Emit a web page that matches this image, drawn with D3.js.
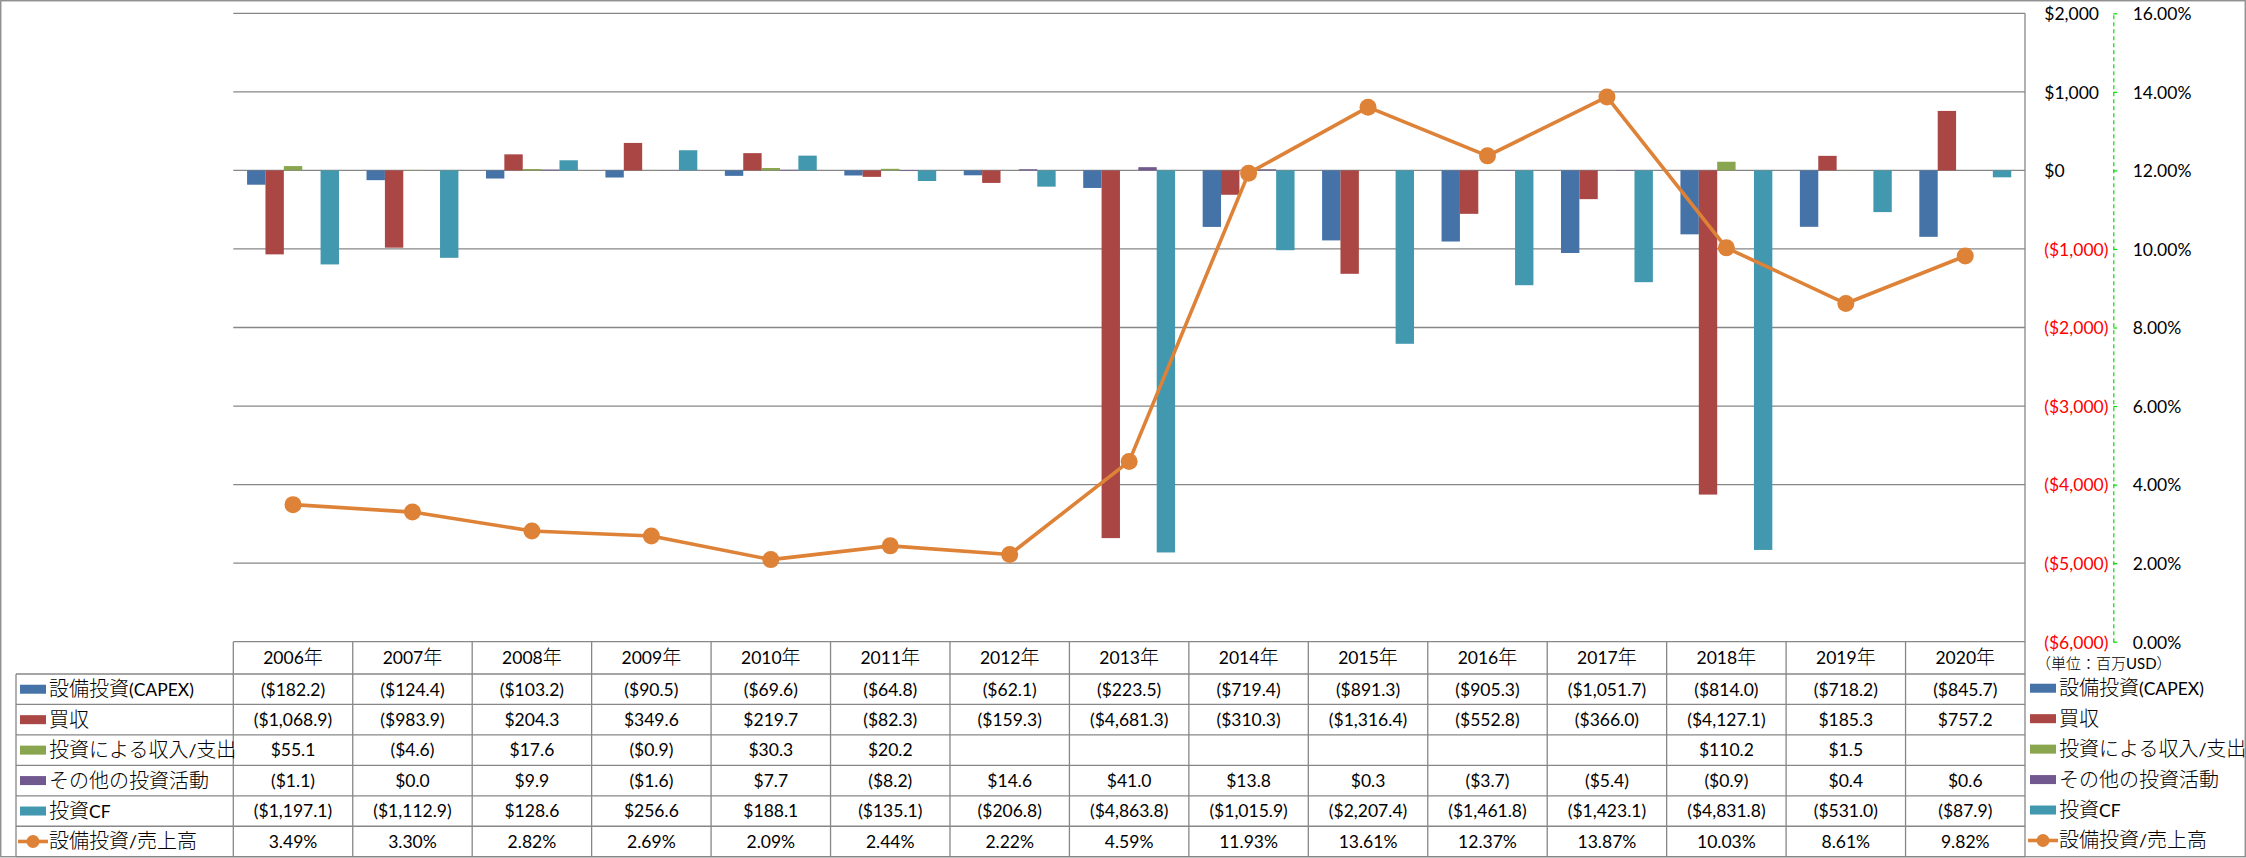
<!DOCTYPE html>
<html><head><meta charset="utf-8">
<script src="https://cdn.jsdelivr.net/npm/d3@7"></script>
<style>
html,body{margin:0;padding:0;background:#fff;}
svg{display:block;}
</style></head><body>
<svg id="chart" width="2246" height="858"></svg>
<script>
// ---------- data ----------
const years = ["2006年","2007年","2008年","2009年","2010年","2011年","2012年","2013年","2014年","2015年","2016年","2017年","2018年","2019年","2020年"];
const seriesNames = ["設備投資(CAPEX)","買収","投資による収入/支出","その他の投資活動","投資CF"];
const lineName = "設備投資/売上高";
const capex        = [-182.2,-124.4,-103.2,-90.5,-69.6,-64.8,-62.1,-223.5,-719.4,-891.3,-905.3,-1051.7,-814.0,-718.2,-845.7];
const acquisitions = [-1068.9,-983.9,204.3,349.6,219.7,-82.3,-159.3,-4681.3,-310.3,-1316.4,-552.8,-366.0,-4127.1,185.3,757.2];
const investIncome = [55.1,-4.6,17.6,-0.9,30.3,20.2,null,null,null,null,null,null,110.2,1.5,null];
const otherInvest  = [-1.1,0.0,9.9,-1.6,7.7,-8.2,14.6,41.0,13.8,0.3,-3.7,-5.4,-0.9,0.4,0.6];
const investCF     = [-1197.1,-1112.9,128.6,256.6,188.1,-135.1,-206.8,-4863.8,-1015.9,-2207.4,-1461.8,-1423.1,-4831.8,-531.0,-87.9];
const capexRatio   = [3.49,3.30,2.82,2.69,2.09,2.44,2.22,4.59,11.93,13.61,12.37,13.87,10.03,8.61,9.82];
const leftTicks  = [2000,1000,0,-1000,-2000,-3000,-4000,-5000,-6000];
const rightTicks = [16,14,12,10,8,6,4,2,0];
const unitLabel = "（単位：百万USD）";

const seriesValues = [capex, acquisitions, investIncome, otherInvest, investCF];
const colors = ["#4572A7","#AA4643","#89A54E","#71588F","#4198AF"];
const lineColor = "#DE8237";

// ---------- layout ----------
const W = 2246, H = 858;
const plotL = 233.3, plotR = 2025, plotT = 13.3, plotB = 641.7;
const tableLeft = 16;
const headerB = 674;
const rowH = 30.45;
const gridColor = "#878787";
const LAT = "Lato, 'Liberation Sans', sans-serif";
const CJKF = "'Noto Sans CJK JP', sans-serif";

const svg = d3.select("#chart");

const x = d3.scaleBand().domain(years).range([plotL, plotR]).paddingInner(0).paddingOuter(0);
const bw = x.bandwidth();
const groupW = bw * 5 / 6.5;
const xs = d3.scaleBand().domain(d3.range(5)).range([(bw - groupW) / 2, (bw + groupW) / 2]);
const y = d3.scaleLinear().domain([-6000, 2000]).range([plotB, plotT]);
const y2 = d3.scaleLinear().domain([0, 16]).range([plotB, plotT]);

// outer border
svg.append("rect").attr("x", 0.75).attr("y", 0.75).attr("width", W - 1.5).attr("height", 856)
  .attr("fill", "none").attr("stroke", "#868686").attr("stroke-width", 1.3);

// gridlines
svg.append("g").selectAll("line").data(leftTicks).join("line")
  .attr("x1", plotL).attr("x2", plotR).attr("y1", d => y(d)).attr("y2", d => y(d))
  .attr("stroke", gridColor).attr("stroke-width", 1.3);

// bars
const barsG = svg.append("g");
seriesValues.forEach((vals, i) => {
  barsG.append("g").selectAll("rect")
    .data(vals.map((v, j) => ({v, yr: years[j]})).filter(d => d.v !== null))
    .join("rect")
    .attr("x", d => x(d.yr) + xs(i))
    .attr("width", xs.bandwidth())
    .attr("y", d => y(Math.max(0, d.v)))
    .attr("height", d => Math.abs(y(d.v) - y(0)))
    .attr("fill", colors[i]);
});

// line
const pts = capexRatio.map((v, j) => ({v, yr: years[j]}));
svg.append("path").datum(pts)
  .attr("d", d3.line().x(d => x(d.yr) + bw / 2).y(d => y2(d.v)))
  .attr("fill", "none").attr("stroke", lineColor).attr("stroke-width", 3.6).attr("stroke-linejoin", "round");
svg.append("g").selectAll("circle").data(pts).join("circle")
  .attr("cx", d => x(d.yr) + bw / 2).attr("cy", d => y2(d.v)).attr("r", 8.5).attr("fill", lineColor);

// right border of plot/table
svg.append("line").attr("x1", plotR).attr("x2", plotR).attr("y1", plotT).attr("y2", 856.7)
  .attr("stroke", gridColor).attr("stroke-width", 1.3);

// left ($) axis labels
const fmtD = v => v < 0 ? "($" + d3.format(",")(-v) + ")" : "$" + d3.format(",")(v);
const axL = svg.append("g").attr("transform", "translate(2044.3,0)")
  .call(d3.axisRight(y).tickValues(leftTicks).tickSize(0).tickPadding(0).tickFormat(fmtD));
axL.select(".domain").remove();
axL.selectAll("text").attr("font-family", LAT).attr("font-size", 17.5)
  .attr("fill", d => d < 0 ? "#FF0000" : "#000").attr("dy", "0.36em");

// right (%) axis
const axR = svg.append("g").attr("transform", "translate(2113.3,0)")
  .call(d3.axisRight(y2).tickValues(rightTicks).tickSizeInner(4).tickSizeOuter(0).tickPadding(15.4)
    .tickFormat(d => d.toFixed(2) + "%"));
axR.select(".domain").attr("stroke", "#00DD00").attr("stroke-dasharray", "4,3").attr("stroke-width", 1.2);
axR.selectAll(".tick line").attr("stroke", "#00DD00").attr("stroke-width", 1.2);
axR.selectAll("text").attr("font-family", LAT).attr("font-size", 17.5).attr("fill", "#000").attr("dy", "0.36em");

// rich text helper (latin / CJK runs)
const CJKRE = /[\u3000-\u30ff\u3400-\u9fff\uff00-\uffef]/;
function rich(sel, str, latSize, cjkSize) {
  const runs = [];
  for (const ch of str) {
    const c = CJKRE.test(ch);
    if (runs.length && runs[runs.length - 1].c === c) runs[runs.length - 1].t += ch;
    else runs.push({c, t: ch});
  }
  runs.forEach(r => sel.append("tspan")
    .attr("font-family", r.c ? CJKF : LAT)
    .attr("font-weight", r.c ? 300 : 400)
    .attr("font-size", r.c ? cjkSize : latSize)
    .text(r.t));
}

// unit label
const ut = svg.append("text").attr("x", 2036).attr("y", 669).attr("fill", "#000");
rich(ut, unitLabel, 15, 15);

// ---------- table ----------
const tG = svg.append("g");
const tl = (x1, y1, x2, y2_) => tG.append("line").attr("x1", x1).attr("y1", y1).attr("x2", x2).attr("y2", y2_)
  .attr("stroke", gridColor).attr("stroke-width", 1.3);
const rowTops = d3.range(7).map(k => headerB + k * rowH);
rowTops.forEach(ry => tl(tableLeft, ry, plotR, ry));
years.forEach(yr => tl(x(yr), plotB, x(yr), rowTops[6]));
tl(tableLeft, headerB, tableLeft, rowTops[6]);

// header text
years.forEach(yr => {
  const t = tG.append("text").attr("x", x(yr) + bw / 2).attr("y", (plotB + headerB) / 2 + 6.6)
    .attr("text-anchor", "middle").attr("fill", "#000");
  rich(t, yr, 17.5, 19);
});

// rows
const fmtV = v => v === null ? "" : (v < 0 ? "($" + d3.format(",.1f")(-v) + ")" : "$" + d3.format(",.1f")(v));
const rowNames = seriesNames.concat([lineName]);
const rowVals = seriesValues.concat([capexRatio]);
rowVals.forEach((vals, k) => {
  const cy = rowTops[k] + rowH / 2;
  vals.forEach((v, j) => {
    tG.append("text").attr("x", x(years[j]) + bw / 2).attr("y", cy + 6.3)
      .attr("text-anchor", "middle").attr("font-family", LAT).attr("font-size", 17.5).attr("fill", "#000")
      .text(k === 5 ? v.toFixed(2) + "%" : fmtV(v));
  });
});

// legend keys (in table and on the right)
function drawKey(g, kx, cy, k) {
  if (k < 5) {
    g.append("rect").attr("x", kx).attr("y", cy - 4.5).attr("width", 26).attr("height", 9).attr("fill", colors[k]);
  } else {
    g.append("line").attr("x1", kx - 2).attr("x2", kx + 28).attr("y1", cy).attr("y2", cy)
      .attr("stroke", lineColor).attr("stroke-width", 3.6);
    g.append("circle").attr("cx", kx + 13).attr("cy", cy).attr("r", 6.5).attr("fill", lineColor);
  }
}
rowNames.forEach((nm, k) => {
  const cy = rowTops[k] + rowH / 2;
  drawKey(tG, 20, cy, k);
  const t = tG.append("text").attr("x", 49).attr("y", cy + 7).attr("fill", "#000");
  rich(t, nm, 17.5, 20);
  const lg = svg.append("g");
  drawKey(lg, 2030, cy - 1, k);
  const t2 = lg.append("text").attr("x", 2059).attr("y", cy + 6).attr("fill", "#000");
  rich(t2, nm, 17.5, 20);
});
</script>
</body></html>
